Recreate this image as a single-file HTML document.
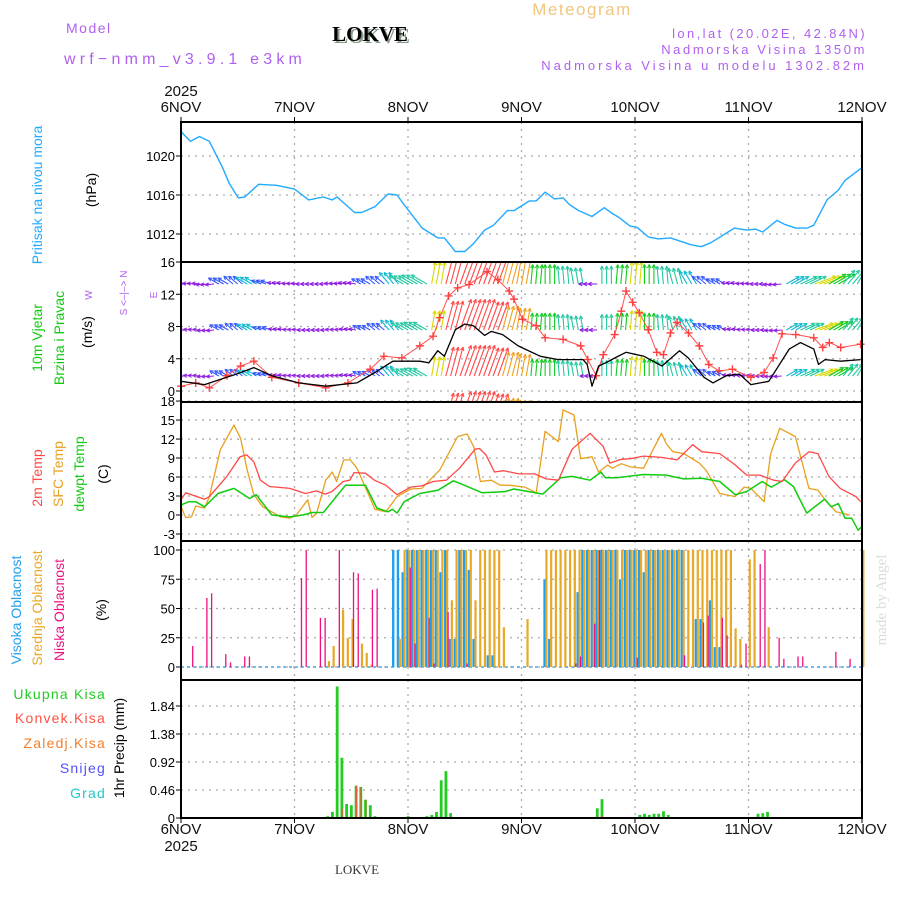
<!DOCTYPE html>
<html><head><meta charset="utf-8">
<style>
html,body{margin:0;padding:0;background:#fff;}
svg{display:block;font-family:"Liberation Sans",sans-serif;}
</style></head>
<body>
<svg id="chart" width="900" height="900" viewBox="0 0 900 900" xmlns="http://www.w3.org/2000/svg">
<text x="582" y="15" font-size="17" text-anchor="middle" letter-spacing="1.5" fill="#f0c680">Meteogram</text>
<text x="66" y="33" font-size="14" letter-spacing="1.5" fill="#b060f0">Model</text>
<text x="64" y="64" font-size="16" letter-spacing="4.2" fill="#b060f0">wrf−nmm_v3.9.1 e3km</text>
<text x="372" y="43" font-size="21" font-weight="bold" font-family="Liberation Serif,serif" text-anchor="middle" fill="#8a9a8a">LOKVE</text>
<text x="370" y="41" font-size="21" font-weight="bold" font-family="Liberation Serif,serif" text-anchor="middle" fill="#000">LOKVE</text>
<g font-size="13" fill="#b060f0" text-anchor="end" letter-spacing="3">
<text x="867" y="38" letter-spacing="2.4">lon,lat (20.02E, 42.84N)</text>
<text x="867" y="54" letter-spacing="2.6">Nadmorska Visina 1350m</text>
<text x="867" y="70" letter-spacing="3">Nadmorska Visina u modelu 1302.82m</text>
</g>
<g id="grid"></g>
<g id="marks"></g>
<g id="frames"></g>
<g id="labels"></g>
<text x="357" y="874" font-size="13" font-family="Liberation Serif,serif" text-anchor="middle" fill="#333">LOKVE</text>
<text transform="translate(886,600) rotate(-90)" font-size="15" font-family="Liberation Serif,serif" text-anchor="middle" fill="#d8ded8">made by Angel</text>
</svg>
<script>
// ---------- data ----------
const dayLabels = ["6NOV","7NOV","8NOV","9NOV","10NOV","11NOV","12NOV"];
const presHours = [0,2,3.9,6,8.8,10.2,12.1,13.5,16.4,20.2,24,27,30.1,32,33,36.7,38.2,41,43.8,45.7,47.2,51,54.3,55.7,58,60,61.8,64.2,66.1,69,70.4,73.7,75.1,77,79,80.8,82.2,84.1,86.9,89.5,91.2,92.6,95,96.4,98.8,101,103.5,107.8,110,112,117,119.6,121.5,123,126,127.6,130,132.4,133.8,136.6,139,140.4,143.7,144];
const presVals = [1022.5,1021.5,1022.0,1021.5,1018.8,1017.2,1015.7,1015.8,1017.1,1017.0,1016.6,1015.5,1015.8,1015.5,1015.8,1014.2,1014.2,1014.8,1016.1,1016.0,1015.0,1012.6,1011.6,1011.6,1010.2,1010.2,1011.0,1012.4,1012.9,1014.4,1014.4,1015.4,1015.4,1016.3,1015.6,1015.7,1015.0,1014.4,1013.8,1014.7,1014.1,1013.7,1012.8,1012.7,1011.7,1011.5,1011.6,1010.9,1010.7,1011.1,1012.6,1012.4,1012.5,1012.2,1013.4,1013.0,1012.6,1012.6,1012.9,1015.5,1016.5,1017.5,1018.7,1018.8];
const presTicks = [1012,1016,1020];

const speedHours = [0,5,11.7,15.4,19.2,24.9,30.6,37.2,41,44.8,50.5,52.4,54.3,55.7,58,60,61.8,64.2,65.6,68,71.3,76,79.8,85,85.9,86.9,88.3,89.8,91.7,94.1,97.9,99.8,101.7,105.4,107.3,110.6,112.5,115.3,118.1,120.5,124.3,128.6,131,133.8,134.8,136.2,139.5,143.7];
const speedVals = [1.2,0.8,2.1,2.9,1.9,1.0,0.6,1.0,2.3,3.7,3.7,3.5,5.0,4.3,7.6,8.3,8.1,6.9,7.4,7.0,5.6,4.3,3.9,3.9,3.3,0.6,3.1,3.5,4.1,4.8,4.3,3.7,3.1,5.0,4.1,1.7,1.0,1.9,2.1,0.8,1.2,5.2,6.0,5.2,3.3,3.9,3.7,3.9];
const gustHours = [0,3.1,6,9.7,12.6,15.4,19.2,24.9,30.6,35.3,40,42.9,46.7,50.5,53.3,54.7,56.6,58.5,60.9,64.7,67,69.4,70.4,72.2,75.1,77,80.8,84.5,86,87.8,89.3,91.7,93.1,94.1,95.5,96.9,98.8,100.6,102,103.5,104.9,107.3,109.6,111.6,113.8,116.6,120.5,123.3,125.2,127.1,130,133.8,135.7,137.1,139.5,143.7];
const gustVals = [0.6,1.0,0.4,1.9,3.1,3.7,1.7,1.0,0.4,1.0,2.7,4.3,4.1,5.6,6.8,9.1,11.8,12.8,13.2,14.8,13.8,12.4,11.4,8.9,8.1,6.6,6.4,5.6,3.9,1.9,4.5,7.0,9.9,12.4,11.0,9.7,7.6,4.8,4.5,7.2,8.5,7.2,5.6,3.3,2.5,2.7,1.7,2.3,4.1,7.1,7.0,6.6,5.4,6.0,5.4,5.8];
const windSpd = [1.2,1.2,1.5,2.5,2.5,3.0,2.0,1.3,1.2,1.2,1.2,1.2,1.3,2.0,2.5,3.5,4.0,4.5,6,10,11,11,10,8,7,5,5,4.5,4,1.5,4.5,5,6,5,4.5,4,3.5,2.5,2,1.3,1.2,1.2,1.5,3.5,4.5,6,5,4.5,4];
const windDir = [270,275,265,300,310,300,290,280,275,270,270,275,280,300,310,320,300,300,10,15,20,20,20,15,10,5,0,355,350,270,0,5,5,0,355,345,330,310,300,280,275,270,265,60,65,70,60,40,30];
const windTicks = [0,4,8,12,16];

const tempTicks = [-3,0,3,6,9,12,15,18];
const t2Hours = [0,1,2.2,5,6,9.7,12.5,13.9,15.4,16.8,18.7,23,26.3,28.6,30.5,31.9,34.3,35.7,36.6,39,40.9,43.3,45.7,48.6,50.9,53.3,56.1,58.9,62.2,63.1,64.5,66.3,68.2,71.5,74.8,77.2,79.8,82.7,86.5,89.3,90.7,93.1,95,97.8,101.6,104.9,108.2,110.1,113.9,117.2,119.6,122.4,125.3,127.1,129.9,132.8,134.7,137,139.4,142.7,143.7];
const t2Vals = [2.4,3.5,3.2,2.5,2.9,6.1,9.2,9.5,8.4,5.5,4.5,4.2,3.4,3.8,3.3,3.7,5.3,5.5,6.7,6.6,5.5,4.7,3.2,4.4,4.6,5.3,5.5,7.4,10.4,10.5,9.5,6.8,7.0,6.5,6.5,5.7,5.5,10.4,12.9,10.8,8.2,8.8,8.9,9.3,9.1,8.7,11.1,10.0,9.7,7.9,6.3,6.3,5.5,5.3,8.2,10.0,9.7,6.1,4.2,2.9,2.1];
const sfcHours = [0,1,2.2,3.1,5,6,8.3,11.2,12.6,14,15.4,17.3,21.1,23,24.4,26.8,27.7,28.7,30.6,32,32.9,34.4,35.8,37.2,39.1,41,43.3,45.7,48.6,50.9,54.7,58.5,60.5,61.9,63.3,65.6,67.5,69.4,72.7,75.1,77,79.8,80.8,83.1,84.5,86.9,88.3,90.2,91.2,93.1,95,97.8,101.6,102.6,104,106.3,109.6,111,113.9,117.2,119.1,120.5,123.3,124.7,126.6,129.9,132.8,134.7,136.2,138.5,141.4,143.7];
const sfcVals = [1.3,-0.4,-0.3,1.4,1.1,2.9,10.3,14.2,12.1,7.1,3.2,1.3,-0.3,-0.5,0,2.4,-0.4,0.3,5.5,6.8,5.3,8.7,8.7,7.4,4.2,0.9,0.5,2.9,4.1,4.2,7.1,12.4,12.8,10.8,5.3,5.5,4.7,4.7,4.4,3.5,13.2,11.6,16.6,15.8,8.9,9.2,6.8,7.9,7.4,8.1,7.6,7.4,12.9,11.3,10.0,9.7,8.2,7.1,3.4,2.9,4.4,4.2,2.1,9.7,13.7,12.4,4.2,3.9,2.4,0.5,0];
const dewHours = [0,1.7,3.1,5,7.8,11.2,14.5,15.9,19.2,23,25.8,27.7,30.1,34.8,39,41.4,43.8,44.7,45.7,47.2,50.5,54.3,57.6,59,63.7,68.5,70.4,76.5,80.3,82.7,86.5,88.8,89.7,92.1,97.8,102.6,106.3,110.1,113.9,117.2,119.6,122.9,124.8,127.6,129.5,132.3,134.2,136.1,137.5,139,140.4,141.8,143.2,144];
const dewVals = [1.6,2.1,2.1,1.3,3.4,4.2,2.6,3.2,0,-0.3,0,0.4,0.4,4.7,4.7,1.1,0.5,0.9,0.3,2.1,3.4,3.9,5.4,5.0,3.5,3.7,4.1,3.3,5.9,6.1,5.5,6.8,5.9,5.9,6.4,6.3,5.7,5.8,5.3,3.2,3.7,5.3,4.4,5.6,4.5,0.3,1.4,2.5,1.3,1.8,-0.5,-0.5,-2.4,-1.8];

const cloudTicks = [0,25,50,75,100];
const cloudLow = [0,0,18,0,0,59,63,0,0,11,4,0, 0,9,9,0,0,0,0,0,0,0,0,0, 0,76,100,0,0,42,42,0,0,100,0,0, 81,80,0,0,66,67,0,0,0,0,0,0, 85,20,0,0,42,3,0,0,47,0,0,0, 3,0,0,0,0,0,0,0,0,0,0,0, 0,0,0,0,0,0,0,0,0,0,0,3, 9,0,0,37,100,0,0,0,0,0,0,0, 8,0,0,0,0,0,0,0,0,0,10,0, 0,0,38,44,0,0,42,27,0,0,2,20, 0,0,88,100,0,0,25,7,0,0,9,9, 0,0,0,0,0,0,13,0,0,7,0,0, 0];
const cloudMid = [0,0,0,0,0,0,0,0,0,0,0,0, 0,0,0,0,0,0,0,0,0,0,0,0, 0,0,0,0,0,0,0,5,18,0,49,25, 41,0,20,12,2,0,0,0,0,0,24,100, 100,100,100,100,100,100,100,100,100,57,100,100, 100,100,57,100,100,100,100,100,34,0,0,0, 0,41,0,0,0,100,100,100,100,100,100,100, 100,100,100,100,100,100,100,100,100,100,100,100, 100,100,100,100,100,100,100,100,100,100,100,100, 100,100,100,100,100,100,100,100,100,33,24,0, 92,100,0,0,34,0,0,0,0,0,0,0, 0,0,0,0,0,0,0,0,0,0,0,0, 100];
const cloudHigh = [0,0,0,0,0,0,0,0,0,0,0,0, 0,0,0,0,0,0,0,0,0,0,0,0, 0,0,0,0,0,0,0,0,0,0,0,0, 0,0,0,0,0,0,0,0,0,100,100,81, 100,100,100,100,100,100,100,81,100,24,24,100, 100,83,24,0,0,10,10,0,0,0,0,0, 0,0,0,0,0,75,24,0,0,0,0,0, 64,100,100,100,100,100,100,100,100,75,100,100, 100,100,81,100,100,100,100,100,100,100,100,0, 0,41,41,0,57,17,17,0,0,0,0,0, 0,0,0,0,0,0,0,0,0,0,0,0, 0,0,0,0,0,0,0,0,0,0,0,0, 0];

const precTicks = [0,0.46,0.92,1.38,1.84];
const precHours = [31,32,33,34,35,36,37,38,39,40,41,48,52,53,54,55,56,57,88,89,97,98,99,100,101,102,103,122,123,124];
const precTotal = [0.03,0.1,2.16,0.99,0.23,0.21,0.53,0.51,0.3,0.21,0.03,0.03,0.03,0.05,0.1,0.62,0.77,0.08,0.16,0.31,0.05,0.07,0.05,0.07,0.07,0.11,0.05,0.07,0.08,0.1];
const convHours = [34,37,38,39,88,89];
const convVals = [0.15,0.53,0.5,0.3,0.07,0.03];

// ---------- scales ----------
const X0=181, X1=862;
const X = h => X0 + h*(X1-X0)/144;
const yP = p => 234 - (p-1012)*9.75;
const yW = s => 391 - s*8.06;
const yT = t => 515 - t*6.33;
const yC = c => 667 - c*1.17;
const yR = v => 818 - v*60.87;
const panels = [[122,262],[262,402],[402,541],[541,680],[680,818]];

const NS="http://www.w3.org/2000/svg";
function mk(parent,tag,attrs){const e=document.createElementNS(NS,tag);for(const k in attrs)e.setAttribute(k,attrs[k]);parent.appendChild(e);return e;}
const grid=document.getElementById('grid'), marks=document.getElementById('marks'), frames=document.getElementById('frames'), labels=document.getElementById('labels');
const svg=document.getElementById('chart');
const defs=mk(svg,'defs',{});
const cp=mk(defs,'clipPath',{id:'windclip'}); mk(cp,'rect',{x:X0,y:262,width:X1-X0,height:140});

panels.forEach((p,i)=>{
  for(let d=1;d<6;d++){
    const l=mk(grid,'line',{x1:X(d*24),x2:X(d*24),y1:p[0],y2:p[1],stroke:'#aaa','stroke-width':1.3,'stroke-dasharray':'2,5'});
    
    
  }
});
function hgrid(ticks,fy,fmt,name){
  ticks.forEach(t=>{
    const y=fy(t);
    const l=mk(grid,'line',{x1:X0,x2:X1,y1:y,y2:y,stroke:'#aaa','stroke-width':1.3,'stroke-dasharray':'2,5'});
    
    
    const k=mk(frames,'line',{x1:X0-5,x2:X0,y1:y,y2:y,stroke:'#000','stroke-width':1});
    
    
    const tx=mk(labels,'text',{x:X0-6,y:y+5,'font-size':13,'text-anchor':'end',fill:'#000'});
    tx.textContent=fmt(t);
    
    
  });
}
hgrid(presTicks,yP,t=>t,'pressure');
hgrid(windTicks,yW,t=>t,'wind');
hgrid(tempTicks,yT,t=>t,'temp');
hgrid(cloudTicks,yC,t=>t,'cloud');
hgrid(precTicks,yR,t=>t===0?'0':t.toFixed(2),'precip');

function line(hs,vs,fy,color,w,name,parent){
  const pts=hs.map((h,i)=>X(h).toFixed(1)+','+fy(vs[i]).toFixed(1)).join(' ');
  const e=mk(parent||marks,'polyline',{points:pts,fill:'none',stroke:color,'stroke-width':w,'stroke-linejoin':'round'});
  
  
  return e;
}
line(presHours,presVals,yP,'#22aaff',1.4,'pressure-line');

// wind arrows (each 3-hourly value drawn hourly over its 3h window)
const wg=mk(marks,'g',{'clip-path':'url(#windclip)'});


function wcol(s){return s<1.6?'#9020e0':s<2.6?'#3355ff':s<3.6?'#10b8d0':s<4.6?'#20c8a0':s<5.6?'#10cc20':s<6.6?'#d8d800':s<8.5?'#f0a020':'#ff4848';}
const rows=[[284,1.15],[330,1],[376,1],[422,1]];
rows.forEach(r=>{
  windSpd.forEach((s,i)=>{
    for(let k=-1;k<=1;k++){
      const hh=i*3+k;
      if(hh<0||hh>144)continue;
      const x=X(hh), L=(4+s*2.6)*r[1], a=windDir[i]*Math.PI/180;
      const x2=x+L*Math.sin(a), y2=r[0]-L*Math.cos(a);
      const c=wcol(s);
      const ar=mk(wg,'line',{x1:x,y1:r[0],x2:x2,y2:y2,stroke:c,'stroke-width':1.1});
      
      
      [0.45,-0.45].forEach(d=>{
        const b=a+Math.PI+d;
        const hd=mk(wg,'line',{x1:x2,y1:y2,x2:x2+4*Math.sin(b),y2:y2-4*Math.cos(b),stroke:c,'stroke-width':1});
        
        
      });
    }
  });
});
line(gustHours,gustVals,yW,'#ff5050',1,'gust-line');
gustHours.forEach((h,i)=>{
  const x=X(h), y=yW(gustVals[i]);
  const p=mk(marks,'path',{d:`M${x-4},${y}H${x+4}M${x},${y-4}V${y+4}`,stroke:'#ff4040','stroke-width':1.4});
  
  
});
line(speedHours,speedVals,yW,'#000',1.3,'wind-speed-line');

line(sfcHours,sfcVals,yT,'#e8a020',1.3,'sfc-temp-line');
line(dewHours,dewVals,yT,'#10cc10',1.5,'dewpoint-line');
line(t2Hours,t2Vals,yT,'#ff4848',1.3,'temp-2m-line');

const cb=mk(marks,'line',{x1:X0,x2:X1,y1:yC(0),y2:yC(0),stroke:'#44aaee','stroke-width':1.5,'stroke-dasharray':'3,3'});


function bars(vals,off,w,color,name){
  vals.forEach((v,h)=>{
    if(v<=0)return;
    const r=mk(marks,'rect',{x:X(h)+off,y:yC(v),width:w,height:yC(0)-yC(v),fill:color});
    
    
  });
}
bars(cloudHigh,-1.8,2.4,'#1ea0f0','high-cloud-bar');
bars(cloudMid,0.2,2.2,'#e8a828','mid-cloud-bar');
bars(cloudLow,1.6,1.3,'#ee1080','low-cloud-bar');

precHours.forEach((h,i)=>{
  const v=precTotal[i];
  const r=mk(marks,'rect',{x:X(h)-1.3,y:yR(v),width:2.8,height:yR(0)-yR(v),fill:'#22cc22'});
  
  
});
convHours.forEach((h,i)=>{
  const v=convVals[i];
  const r=mk(marks,'rect',{x:X(h)-0.3,y:yR(v),width:1.2,height:yR(0)-yR(v),fill:'#ff5040'});
  
  
});

panels.forEach(p=>{
  const f=mk(frames,'rect',{x:X0,y:p[0],width:X1-X0,height:p[1]-p[0],fill:'none',stroke:'#000','stroke-width':2});
  
  
});
dayLabels.forEach((d,i)=>{
  const x=X(i*24);
  [[112,122,117],[834,818,823]].forEach(r=>{
    const t=mk(labels,'text',{x:x,y:r[0],'font-size':15,'text-anchor':'middle',fill:'#111'});
    t.textContent=d;
    
    
    const k=mk(frames,'line',{x1:x,x2:x,y1:r[1],y2:r[2],stroke:'#000','stroke-width':1});
    
    
  });
});
[[96],[851]].forEach(r=>{
  const t=mk(labels,'text',{x:X(0),y:r[0],'font-size':15,'text-anchor':'middle',fill:'#111'});
  t.textContent='2025';
  
  
});

function vt(x,y,txt,color,name,size){
  const t=mk(labels,'text',{transform:`translate(${x},${y}) rotate(-90)`,'font-size':size||14,'text-anchor':'middle',fill:color});
  t.textContent=txt;
  
  
}
vt(42,195,'Pritisak na nivou mora','#22aaff','pressure-title');
vt(96,190,'(hPa)','#000','pressure-unit');
vt(42,338,'10m Vjetar','#10cc10','wind-title-1');
vt(64,338,'Brzina i Pravac','#10cc10','wind-title-2');
vt(92,332,'(m/s)','#000','wind-unit');
vt(127,293,'S <–|–> N','#b060f0','compass-ns',10);
vt(92,295,'W','#b060f0','compass-w',10);
vt(157,295,'E','#b060f0','compass-e',10);
vt(42,478,'2m Temp','#ff4848','temp-2m-title');
vt(63,474,'SFC Temp','#e8a020','sfc-temp-title');
vt(84,474,'dewpt Temp','#10cc10','dewpoint-title');
vt(108,474,'(C)','#000','temp-unit');
vt(21,610,'Visoka Oblacnost','#1ea0f0','high-cloud-title');
vt(42,608,'Srednja Oblacnost','#e8a828','mid-cloud-title');
vt(64,610,'Niska Oblacnost','#ee1080','low-cloud-title');
vt(106,610,'(%)','#000','cloud-unit');
vt(124,748,'1hr Precip (mm)','#000','precip-title');
const leg=[['Ukupna Kisa','#22cc22',699],['Konvek.Kisa','#ff5040',723],['Zaledj.Kisa','#f08030',748],['Snijeg','#5050ff',773],['Grad','#20c8c8',798]];
leg.forEach(l=>{
  const t=mk(labels,'text',{x:106,y:l[2],'font-size':14,'text-anchor':'end','letter-spacing':1.2,fill:l[1]});
  t.textContent=l[0];
  
  
});
</script>
</body></html>
